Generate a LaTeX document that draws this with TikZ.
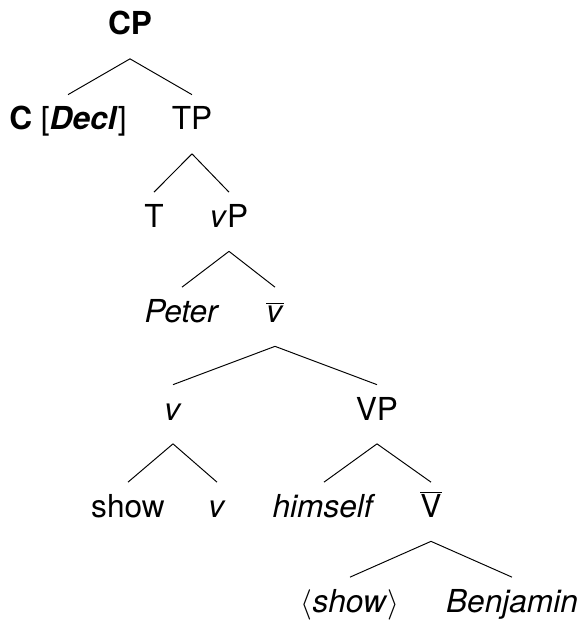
\documentclass[tikz,border=0pt]{standalone}
\usepackage{fontspec}
\setmainfont{TeX Gyre Heros}
\usepackage{tikz}

\begin{document}
\begin{tikzpicture}[
    cat/.style={anchor=base, text height=0.41cm, text depth=0.18cm, inner xsep=0pt, inner ysep=0.29cm, font=\fontsize{18}{21}\selectfont},
    branch/.style={line width=0.55pt, black}
]
\useasboundingbox (0,0) rectangle (11.64,12.4);

% CP Layer
\node[cat] (cp) at (2.6,11.7) {\textbf{CP}};

% C and TP Layer
\node[cat] (c) at (1.36,9.8) {\textbf{C} [\textbf{\textit{Decl}}]};
\node[cat] (tp) at (3.84,9.8) {TP};

% T and vP Layer
\node[cat] (t) at (3.08,7.85) {T};
\node[cat] (vp) at (4.58,7.85) {\textit{v}P};

% Subject Layer
\node[cat] (peter) at (3.64,5.95) {\textit{Peter}};
\node[cat] (vbar) at (5.5,5.95) {$\overline{\mbox{\textit{v}}}$};

% Little v and VP Layer
\node[cat] (vhead) at (3.46,4.0) {\textit{v}};
\node[cat] (bigvp) at (7.54,4.0) {VP};

% Head Movement Layer
\node[cat] (show) at (2.56,2.05) {show};
\node[cat] (vlow) at (4.34,2.05) {\textit{v}};
\node[cat] (himself) at (6.48,2.05) {\textit{himself}};
\node[cat] (bigvbar) at (8.62,2.05) {$\overline{\mbox{V}}$};

% Complement Layer
\node[cat] (trace) at (7.0,0.15) {$\langle$\textit{show}$\rangle$};
\node[cat] (benjamin) at (10.24,0.15) {\textit{Benjamin}};

% Branches
\draw[branch] (cp.south) -- (c.north);
\draw[branch] (cp.south) -- (tp.north);
\draw[branch] (tp.south) -- (t.north);
\draw[branch] (tp.south) -- (vp.north);
\draw[branch] (vp.south) -- (peter.north);
\draw[branch] (vp.south) -- (vbar.north);
\draw[branch] (vbar.south) -- (vhead.north);
\draw[branch] (vbar.south) -- (bigvp.north);
\draw[branch] (vhead.south) -- (show.north);
\draw[branch] (vhead.south) -- (vlow.north);
\draw[branch] (bigvp.south) -- (himself.north);
\draw[branch] (bigvp.south) -- (bigvbar.north);
\draw[branch] (bigvbar.south) -- (trace.north);
\draw[branch] (bigvbar.south) -- (benjamin.north);

\end{tikzpicture}
\end{document}
